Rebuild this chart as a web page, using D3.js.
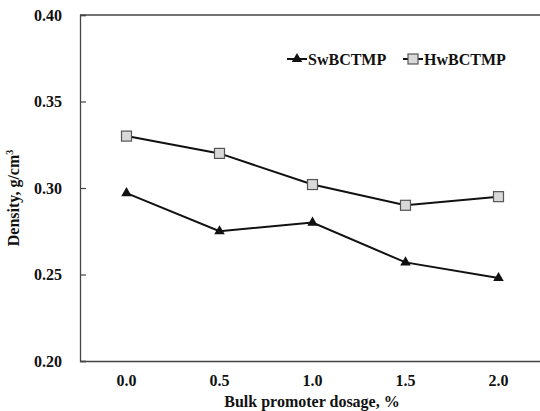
<!DOCTYPE html>
<html><head><meta charset="utf-8">
<script src="https://cdn.jsdelivr.net/npm/d3@7"></script>
<style>body{margin:0;background:#fff}svg{display:block}</style>
</head><body>
<svg id="c" width="540" height="411"></svg>
<script>
const categories = ["0.0","0.5","1.0","1.5","2.0"];
const swValues = [0.297, 0.275, 0.280, 0.257, 0.248];
const hwValues = [0.330, 0.320, 0.302, 0.290, 0.295];
const yTicks = [0.20, 0.25, 0.30, 0.35, 0.40];
const seriesNames = ["SwBCTMP", "HwBCTMP"];

const svg = d3.select("#c");
const L = 80, R = 545, T = 15, B = 361;
const font = "'Liberation Serif', 'Times New Roman', serif";
const x = d3.scaleBand().domain(categories).range([L, R]);
const y = d3.scaleLinear().domain([0.20, 0.40]).range([B, T]);
const cx = d => x(d) + x.bandwidth()/2;

// frame
svg.append("line").attr("x1",L).attr("x2",R).attr("y1",T).attr("y2",T).attr("stroke","#444").attr("stroke-width",1.3);
const yAx = svg.append("g").attr("transform",`translate(${L},0)`)
  .call(d3.axisLeft(y).tickValues(yTicks).tickSize(-6).tickFormat(d3.format(".2f")).tickPadding(18));
yAx.select(".domain").attr("stroke","#444").attr("stroke-width",1.3);
yAx.selectAll(".tick line").attr("stroke","#444").attr("stroke-width",1.2);
yAx.selectAll("text").attr("font-family",font).attr("font-size",16).attr("font-weight","bold").attr("fill","#111");

const xAx = svg.append("g").attr("transform",`translate(0,${B})`)
  .call(d3.axisBottom(x).tickSize(0).tickPadding(14));
xAx.select(".domain").attr("stroke","#444").attr("stroke-width",1.3);
xAx.selectAll("text").attr("font-family",font).attr("font-size",16).attr("font-weight","bold").attr("fill","#111");

// axis titles
svg.append("text").attr("x",312).attr("y",407).attr("text-anchor","middle")
  .attr("font-family",font).attr("font-size",16).attr("font-weight","bold").attr("fill","#111")
  .text("Bulk promoter dosage, %");
const yt = svg.append("text").attr("transform","translate(19,198) rotate(-90)").attr("text-anchor","middle")
  .attr("font-family",font).attr("font-size",16).attr("font-weight","bold").attr("fill","#111");
yt.append("tspan").text("Density, g/cm");
yt.append("tspan").attr("dy",-6).attr("font-size",10).text("3");

const line = d3.line().x((d,i)=>cx(categories[i])).y(d=>y(d));
const tri = d3.symbol().type(d3.symbolTriangle).size(48);

function drawSeries(vals, kind){
  svg.append("path").attr("d",line(vals)).attr("fill","none").attr("stroke","#111").attr("stroke-width",2);
  const g = svg.append("g");
  vals.forEach((v,i)=>{
    if(kind==="tri"){
      g.append("path").attr("d",tri()).attr("transform",`translate(${cx(categories[i])},${y(v)})`).attr("fill","#111");
    } else {
      g.append("rect").attr("x",cx(categories[i])-5).attr("y",y(v)-5).attr("width",10).attr("height",10)
        .attr("fill","#d9d9d9").attr("stroke","#555").attr("stroke-width",1.2);
    }
  });
}
drawSeries(swValues,"tri");
drawSeries(hwValues,"sq");

// legend
const lg = svg.append("g");
[[287, "tri", seriesNames[0]], [403, "sq", seriesNames[1]]].forEach(([lx, kind, name])=>{
  lg.append("line").attr("x1",lx).attr("x2",lx+20).attr("y1",59).attr("y2",59).attr("stroke","#111").attr("stroke-width",2);
  if(kind==="tri") lg.append("path").attr("d",tri()).attr("transform",`translate(${lx+10},59)`).attr("fill","#111");
  else lg.append("rect").attr("x",lx+5).attr("y",54).attr("width",10).attr("height",10).attr("fill","#d9d9d9").attr("stroke","#555").attr("stroke-width",1.2);
  lg.append("text").attr("x",lx+21).attr("y",64.5).attr("font-family",font).attr("font-size",16).attr("font-weight","bold").attr("fill","#111").text(name);
});
</script>
</body></html>
